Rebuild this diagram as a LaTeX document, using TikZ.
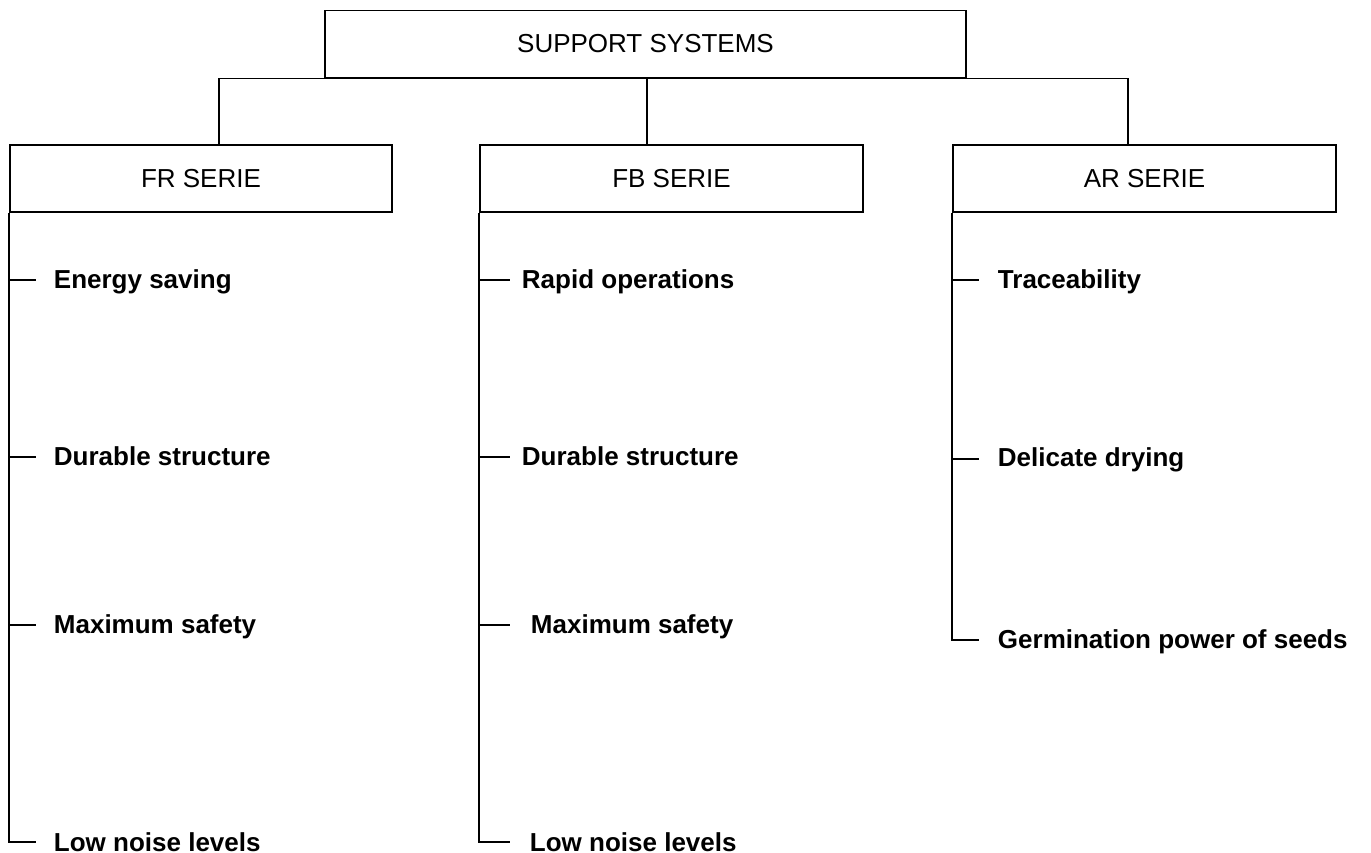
\documentclass[tikz,border=0pt]{standalone}
\usepackage{fontspec}
\setmainfont{Liberation Sans}
\newcommand\hdrfont{\fontsize{26}{30}\selectfont}
\newcommand\itmfont{\fontsize{26}{30}\selectfont\bfseries}
\begin{document}
\begin{tikzpicture}[x=1pt,y=-1pt,line width=1.9pt]
\tikzset{
  boxnode/.style={draw, minimum height=67pt, inner sep=0pt, font=\hdrfont},
  itemnode/.style={anchor=base west, inner sep=0pt, font=\itmfont}
}
\useasboundingbox (0,0) rectangle (1371,852);
% boxes
\node[boxnode, minimum width=641pt] (top) at (645.5,44) {SUPPORT SYSTEMS};
\node[boxnode, minimum width=382pt] (fr) at (201,178.5) {FR SERIE};
\node[boxnode, minimum width=383pt] (fb) at (671.5,178.5) {FB SERIE};
\node[boxnode, minimum width=383pt] (ar) at (1144.5,178.5) {AR SERIE};
% drops
\coordinate (d1) at ([xshift=18pt]fr.north);
\coordinate (d2) at ([xshift=-24.5pt]fb.north);
\coordinate (d3) at ([xshift=-16.5pt]ar.north);
\draw (d1) -- (d1 |- top.south) -- (d3 |- top.south) -- (d3);
\draw (d2 |- top.south) -- (d2);
% FR items
\node[itemnode] (fr1) at (53,288) {Energy saving};
\node[itemnode] (fr2) at (53,465) {Durable structure};
\node[itemnode] (fr3) at (53,633) {Maximum safety};
\node[itemnode] (fr4) at (53,851) {Low noise levels};
\coordinate (tf1) at (36,280);
\coordinate (tf2) at (36,457);
\coordinate (tf3) at (36,625);
\coordinate (tf4) at (36,842);
\draw (fr.south west) |- (tf4);
\draw (fr.south west |- tf1) -- (tf1);
\draw (fr.south west |- tf2) -- (tf2);
\draw (fr.south west |- tf3) -- (tf3);
% FB items
\node[itemnode] (fb1) at (521,288) {Rapid operations};
\node[itemnode] (fb2) at (521,465) {Durable structure};
\node[itemnode] (fb3) at (530,633) {Maximum safety};
\node[itemnode] (fb4) at (529,851) {Low noise levels};
\coordinate (tb1) at (510,280);
\coordinate (tb2) at (510,457);
\coordinate (tb3) at (510,625);
\coordinate (tb4) at (510,842);
\draw (fb.south west) |- (tb4);
\draw (fb.south west |- tb1) -- (tb1);
\draw (fb.south west |- tb2) -- (tb2);
\draw (fb.south west |- tb3) -- (tb3);
% AR items
\node[itemnode] (ar1) at (997,288) {Traceability};
\node[itemnode] (ar2) at (997,466) {Delicate drying};
\node[itemnode] (ar3) at (997,648) {Germination power of seeds};
\coordinate (ta1) at (979,280);
\coordinate (ta2) at (979,459);
\coordinate (ta3) at (979,640);
\draw (ar.south west) |- (ta3);
\draw (ar.south west |- ta1) -- (ta1);
\draw (ar.south west |- ta2) -- (ta2);
\end{tikzpicture}
\end{document}
